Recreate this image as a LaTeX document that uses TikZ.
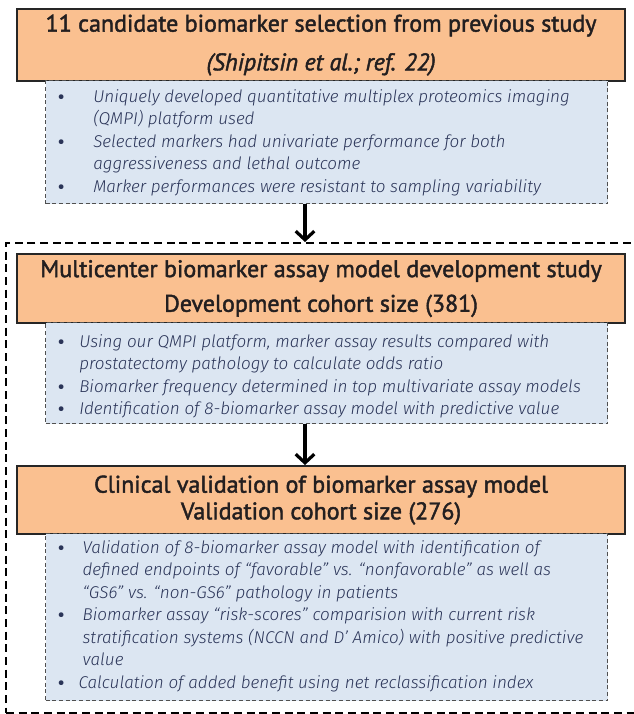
\documentclass[tikz,border=0pt]{standalone}
\usepackage{fontspec}
\setmainfont{PT Sans}
\newfontfamily\headfont{PT Sans}[FakeBold=1.8]
\newfontfamily\bodyfont{Fira Sans Light}
\usetikzlibrary{arrows.meta}

\definecolor{peach}{HTML}{FAC090}
\definecolor{paleblue}{HTML}{DCE6F2}
\definecolor{edgegray}{HTML}{505050}
\definecolor{bodyink}{HTML}{2A3458}
\definecolor{headink}{HTML}{231F20}

\newcommand\dotmark{{\normalfont\upshape\textbullet}}

\begin{document}
\begin{tikzpicture}[x=0.75pt,y=-0.75pt,
  headbox/.style={draw=black!85, line width=1.6pt, fill=peach, anchor=north west,
    minimum width=456pt, inner sep=0pt, align=center, text=headink},
  notebox/.style={draw=edgegray, line width=1pt, dash pattern=on 3pt off 2pt,
    fill=paleblue, anchor=north west, minimum width=421.5pt, inner sep=0pt},
  notes/.style={anchor=base west, inner sep=0pt, text=bodyink,
    font=\bodyfont\itshape\fontsize{12.8}{16.9}\selectfont},
  group/.style={draw=black, line width=1.5pt, dash pattern=on 6pt off 3.5pt,
    anchor=north west, inner sep=0pt},
  flow/.style={line width=2.4pt, -{Straight Barb[length=6.5pt,width=14pt,line width=2.4pt]}}
]
\useasboundingbox (0,0) rectangle (633,714);

% dashed frame around the two study stages
\node[group, minimum width=476pt, minimum height=352.5pt] (stage) at (5,242) {};

% stage 1
\node[headbox, minimum height=54pt, font=\headfont\fontsize{18}{29}\selectfont] (head1) at (16,8)
  {11 candidate biomarker selection from previous study\\ \textit{(Shipitsin et al.; ref. 22)}};
\node[notebox, minimum height=92.25pt] (note1) at (45,80) {};
\node[notes] (text1) at (57,102) {\begin{tabular}[t]{@{}p{27pt}@{}l@{}}
\dotmark & Uniquely developed quantitative multiplex proteomics imaging\\
 & (QMPI) platform used\\
\dotmark & Selected markers had univariate performance for both\\
 & aggressiveness and lethal outcome\\
\dotmark & Marker performances were resistant to sampling variability
\end{tabular}};

% stage 2
\node[headbox, minimum height=51.75pt, font=\headfont\fontsize{18}{26}\selectfont] (head2) at (16,253)
  {Multicenter biomarker assay model development study\\ Development cohort size (381)};
\node[notebox, minimum height=75.75pt] (note2) at (45,322) {};
\node[notes] (text2) at (57,347) {\begin{tabular}[t]{@{}p{16.5pt}@{}l@{}}
\dotmark & Using our QMPI platform, marker assay results compared with\\
 & prostatectomy pathology to calculate odds ratio\\
\dotmark & Biomarker frequency determined in top multivariate assay models\\
\dotmark & Identification of 8-biomarker assay model with predictive value
\end{tabular}};

% stage 3
\node[headbox, minimum height=51pt, font=\headfont\fontsize{18}{20}\selectfont] (head3) at (16,465)
  {Clinical validation of biomarker assay model\\ Validation cohort size (276)};
\node[notebox, minimum height=125.25pt] (note3) at (45,533) {};
\node[notes] (text3) at (57,553) {\begin{tabular}[t]{@{}p{19pt}@{}l@{}}
\dotmark & Validation of 8-biomarker assay model with identification of\\
 & defined endpoints of “favorable” vs. “nonfavorable” as well as\\
 & “GS6” vs. “non-GS6” pathology in patients\\
\dotmark & Biomarker assay “risk-scores” comparision with current risk\\
 & stratification systems (NCCN and D’ Amico) with positive predictive\\
 & value\\
\dotmark & \hspace{-3pt}Calculation of added benefit using net reclassification index
\end{tabular}};

% connectors
\coordinate (ax) at (305,0);
\draw[flow] (note1.south -| ax) -- (stage.north -| ax);
\draw[flow] (note2.south -| ax) -- (head3.north -| ax);
\end{tikzpicture}
\end{document}
